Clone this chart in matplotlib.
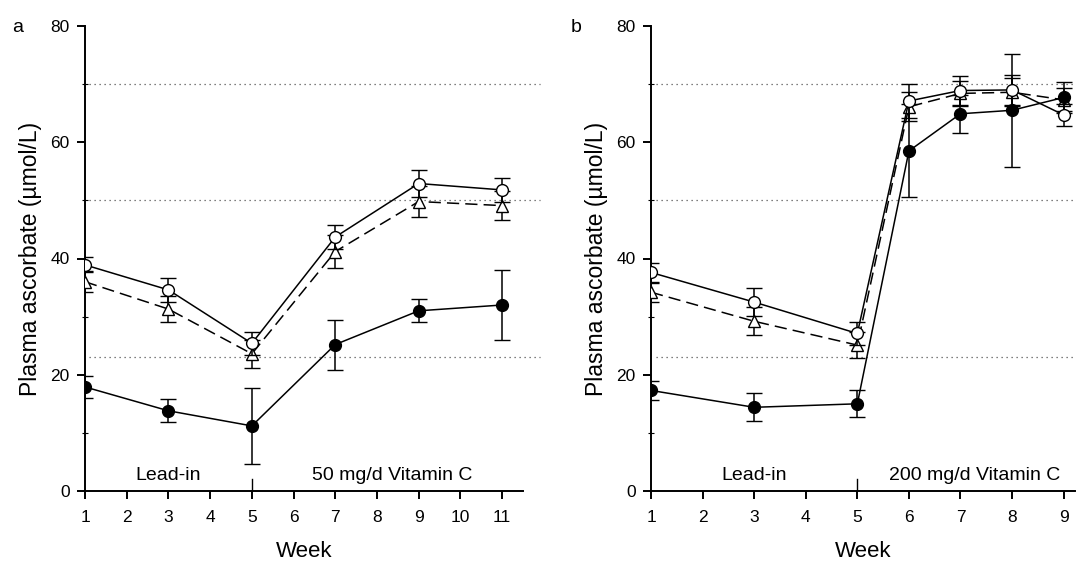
import matplotlib
matplotlib.use("Agg")
import matplotlib.pyplot as plt
from matplotlib.ticker import MultipleLocator

plt.rcParams['font.family'] = ['Liberation Sans', 'DejaVu Sans']

# ---- Panel a data (50 mg/d) ----
weeks_a = [1, 3, 5, 7, 9, 11]
open_a = [38.9, 34.6, 25.4, 43.7, 52.9, 51.8]
open_a_err = [1.3, 2.0, 2.0, 2.1, 2.4, 2.0]
tri_a = [36.0, 31.3, 23.6, 41.2, 49.8, 49.1]
tri_a_err = [1.8, 2.2, 2.4, 2.8, 2.7, 2.5]
fill_a = [17.9, 13.8, 11.2, 25.2, 31.0, 32.0]
fill_a_err = [1.9, 2.0, 6.5, 4.3, 2.0, 6.0]

# ---- Panel b data (200 mg/d) ----
weeks_b = [1, 3, 5, 6, 7, 8, 9]
open_b = [37.6, 32.5, 27.1, 67.1, 68.9, 69.0, 64.7]
open_b_err = [1.6, 2.4, 2.0, 3.0, 2.5, 2.6, 1.9]
tri_b = [34.2, 29.2, 25.1, 66.1, 68.4, 68.6, 67.3]
tri_b_err = [1.6, 2.4, 2.2, 2.5, 2.2, 2.4, 2.0]
fill_b = [17.3, 14.4, 15.0, 58.5, 64.9, 65.5, 67.7]
fill_b_err = [1.7, 2.4, 2.3, 8.0, 3.3, 9.7, 2.7]

ref_levels = [70, 50, 23]
y_ticks = [0, 20, 40, 60, 80]
ylabel = "Plasma ascorbate (\u00b5mol/L)"
xlabel = "Week"

fig = plt.figure(figsize=(10.81, 5.65), dpi=100)
ax_a = fig.add_axes([85/1081, 1-491/565, (523-85)/1081, (491-26)/565])
ax_b = fig.add_axes([651/1081, 1-491/565, (1075-651)/1081, (491-26)/565])

def draw(ax, weeks, o, oe, t, te, f, fe, xmax, ticks, dot_end, lead_x, vit_x, vit_text, letter, letter_x):
    ekw = dict(capsize=6, elinewidth=1.1, capthick=1.1, ecolor='black')
    ax.errorbar(weeks, t, yerr=te, fmt='-', color='black', lw=1.1, marker='^',
                ms=8.5, mfc='white', mec='black', mew=1.0, dashes=(8, 4), zorder=3, **ekw)
    ax.errorbar(weeks, f, yerr=fe, fmt='-', color='black', lw=1.1, marker='o',
                ms=8.5, mfc='black', mec='black', mew=1.0, zorder=4, **ekw)
    ax.errorbar(weeks, o, yerr=oe, fmt='-', color='black', lw=1.1, marker='o',
                ms=8.5, mfc='white', mec='black', mew=1.0, zorder=5, **ekw)
    for lv in ref_levels:
        ax.plot([1.1, dot_end], [lv, lv], color='#555555', lw=0.9,
                linestyle=(0, (1, 3)), clip_on=False, zorder=1)
    ax.plot([5, 5], [0, 2], color='black', lw=1.0, zorder=2)
    ax.set_xlim(1, xmax)
    ax.set_ylim(0, 80)
    ax.set_xticks(ticks)
    ax.set_yticks(y_ticks)
    ax.yaxis.set_minor_locator(MultipleLocator(10))
    for s in ['top', 'right']:
        ax.spines[s].set_visible(False)
    for s in ['left', 'bottom']:
        ax.spines[s].set_linewidth(1.4)
    ax.tick_params(axis='both', which='major', direction='out', length=6, width=1.4,
                   labelsize=12.5, pad=5)
    ax.tick_params(axis='x', which='major', pad=8)
    ax.tick_params(axis='y', which='minor', direction='inout', length=4, width=0.8)
    ax.set_xlabel(xlabel, fontsize=16, labelpad=11)
    ax.set_ylabel(ylabel, fontsize=16.5, labelpad=6)
    ax.text(lead_x, 1.2, "Lead-in", fontsize=14, ha='center', va='bottom')
    ax.text(vit_x, 1.2, vit_text, fontsize=14, ha='center', va='bottom')
    fig.text(letter_x / 1081, 1 - 28 / 565, letter, fontsize=14, ha='left', va='center')

draw(ax_a, weeks_a, open_a, open_a_err, tri_a, tri_a_err, fill_a, fill_a_err,
     11.5, list(range(1, 12)), 11.9, 3.0, 8.36, "50 mg/d Vitamin C", 'a', 12)
draw(ax_b, weeks_b, open_b, open_b_err, tri_b, tri_b_err, fill_b, fill_b_err,
     9.22, list(range(1, 10)), 9.24, 3.0, 7.28, "200 mg/d Vitamin C", 'b', 571)

fig.savefig("out.png", dpi=100)
